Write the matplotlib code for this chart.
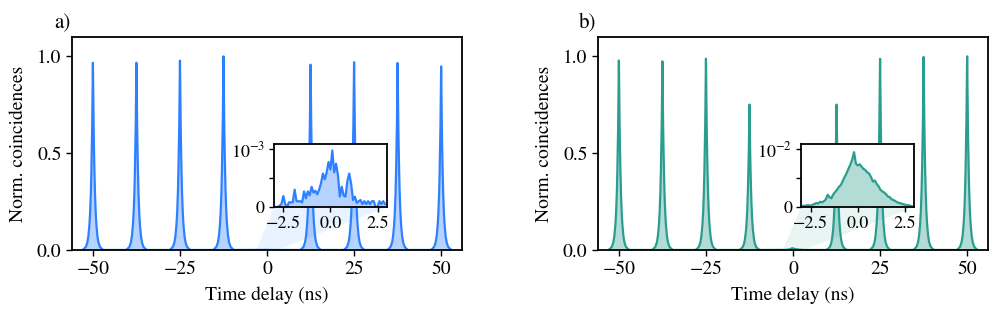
import numpy as np
import matplotlib
matplotlib.use("Agg")
import matplotlib.pyplot as plt
from matplotlib.patches import Polygon

plt.rcParams['font.family'] = ['STIXGeneral', 'DejaVu Serif']
plt.rcParams['mathtext.fontset'] = 'stix'

# peak positions (ns) and normalised heights of the side peaks
centres = [-50, -37.5, -25, -12.5, 12.5, 25, 37.5, 50]
heights_a = [0.967, 0.967, 0.978, 1.0, 0.957, 0.970, 0.966, 0.948]
heights_b = [0.979, 0.974, 0.988, 0.751, 0.751, 0.987, 0.997, 1.0]

# shape of one side peak (offset in ns, relative height)
prof_t = [-3.0, -2.5, -2.0, -1.6, -1.3, -1.0, -0.8, -0.6, -0.45, -0.3, -0.2, -0.1, 0.0,
          0.1, 0.2, 0.3, 0.45, 0.6, 0.8, 1.0, 1.3, 1.6, 2.0, 2.5, 3.0]
prof_y = [0.0, 0.007, 0.018, 0.04, 0.074, 0.135, 0.2, 0.30, 0.41, 0.55, 0.67, 0.82, 1.0,
          0.82, 0.67, 0.55, 0.41, 0.30, 0.2, 0.135, 0.074, 0.04, 0.018, 0.007, 0.0]

# zero-delay peak (inset data)
t0 = [round(-2.9 + 0.1 * i, 1) for i in range(59)]
zero_a = [0.0, 0.0, 0.02, 0.05, 0.19, 0.05, 0.0, 0.08, 0.08, 0.08,
          0.30, 0.10, 0.10, 0.10, 0.08, 0.27, 0.15, 0.27, 0.20, 0.35,
          0.25, 0.28, 0.22, 0.30, 0.41, 0.58, 0.48, 0.60, 0.78, 0.65,
          0.98, 0.60, 0.75, 0.55, 0.18, 0.35, 0.20, 0.18, 0.45, 0.58,
          0.40, 0.12, 0.18, 0.07, 0.10, 0.12, 0.05, 0.10, 0.05, 0.10,
          0.05, 0.10, 0.10, 0.0, 0.0, 0.10, 0.05, 0.10, 0.05]
zero_b = [0.02, 0.02, 0.03, 0.03, 0.02, 0.04, 0.05, 0.07, 0.06, 0.09,
          0.08, 0.10, 0.13, 0.21, 0.17, 0.15, 0.22, 0.26, 0.30, 0.35,
          0.38, 0.45, 0.52, 0.58, 0.66, 0.73, 0.82, 0.95, 0.75, 0.72,
          0.74, 0.70, 0.66, 0.64, 0.60, 0.58, 0.52, 0.44, 0.46, 0.40,
          0.36, 0.30, 0.27, 0.25, 0.22, 0.18, 0.17, 0.13, 0.12, 0.10,
          0.08, 0.07, 0.06, 0.05, 0.04, 0.03, 0.03, 0.02, 0.01]

col_a = '#2f80ff'
col_b = '#2a9d8f'


def build(heights, zero, scale):
    pts = [(c, h) for c, h in zip(centres, heights)]
    pts.append((0.0, None))
    pts.sort(key=lambda p: p[0])
    tt, yy = [], []
    for c, h in pts:
        if h is None:
            tt += [c - 3.0] + [c + v for v in t0] + [c + 3.0]
            yy += [0.0] + [v * scale for v in zero] + [0.0]
        else:
            tt += [c + v for v in prof_t]
            yy += [h * v for v in prof_y]
    return np.array(tt), np.array(yy)


fig = plt.figure(figsize=(9.96, 3.16), dpi=100)

panels = [
    (0.0723, heights_a, zero_a, 1e-3, r'$10^{-3}$', col_a, 'a)', 0.275),
    (0.6004, heights_b, zero_b, 1e-2, r'$10^{-2}$', col_b, 'b)', 0.8045),
]

for left, heights, zero, scale, lab, col, letter, inleft in panels:
    ax = fig.add_axes([left, 0.2089, 0.3916, 0.674])
    t, y = build(heights, zero, scale)
    ax.fill_between(t, 0, y, color=col, alpha=0.35, lw=0)
    ax.plot(t, y, color=col, lw=1.6)
    ax.set_xlim(-56, 56)
    ax.set_ylim(0, 1.1)
    ax.set_xticks([-50, -25, 0, 25, 50])
    ax.set_yticks([0, 0.5, 1.0])
    ax.set_xlabel('Time delay (ns)', fontsize=14, labelpad=6)
    ax.set_ylabel('Norm. coincidences', fontsize=14, labelpad=7)
    ax.tick_params(labelsize=14, width=1.0, length=4)
    for s in ax.spines.values():
        s.set_linewidth(1.3)
    fig.text(left - 0.01, 0.925, letter, fontsize=15, ha='center', va='center')

    axin = fig.add_axes([inleft, 0.345, 0.1135, 0.199])
    axin.fill_between(t0, 0, [v * scale for v in zero], color=col, alpha=0.35, lw=0)
    axin.plot(t0, [v * scale for v in zero], color=col, lw=1.6)
    axin.set_xlim(-3, 3)
    axin.set_ylim(0, 1.09 * scale)
    axin.set_xticks([-2.5, 0, 2.5])
    axin.set_xticklabels(['\u22122.5', '0.0', '2.5'])
    axin.set_yticks([0, 0.5 * scale, scale])
    axin.set_yticklabels(['0', '', lab])
    axin.tick_params(labelsize=13, width=1.0, length=3.5, pad=3)
    for s in axin.spines.values():
        s.set_linewidth(1.3)

    # shaded wedge joining the zoomed region to the inset
    to_main = ax.transData.inverted()
    bl = to_main.transform(axin.transData.transform((-3, 0)))
    br = to_main.transform(axin.transData.transform((3, 0)))
    wedge = Polygon([(-3, 0), (3, 0), tuple(br), tuple(bl)], closed=True,
                    facecolor=col, alpha=0.1, lw=0, zorder=0.5)
    ax.add_patch(wedge)

fig.savefig('out.png', dpi=100)
